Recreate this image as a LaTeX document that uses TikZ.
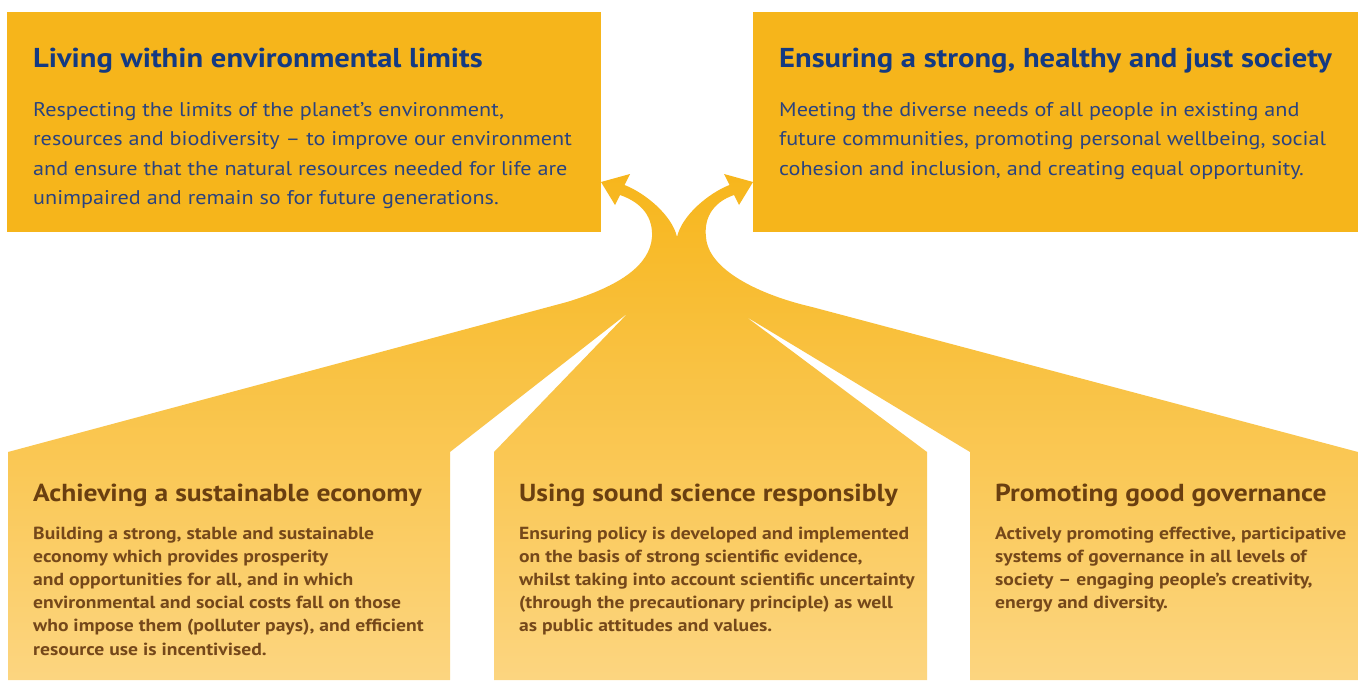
\documentclass[tikz,border=0pt]{standalone}
\usepackage{fontspec}
\newfontfamily\ptsans[FakeStretch=1.12]{PT Sans}
\definecolor{boxy}{HTML}{F6B51B}
\definecolor{shtop}{HTML}{F7B61C}
\definecolor{shmid}{HTML}{F9C244}
\definecolor{shbot}{HTML}{FCD580}
\definecolor{navy}{HTML}{143A82}
\definecolor{navyb}{HTML}{2A437F}
\definecolor{brownt}{HTML}{6A3F10}
\definecolor{brownb}{HTML}{75481A}
\tikzset{
  ttl/.style={anchor=base west,inner sep=0pt,text=navy,font=\ptsans\bfseries\fontsize{27.3}{30}\selectfont},
  bdy/.style={anchor=base west,inner sep=0pt,text=navyb,font=\ptsans\fontsize{19.8}{24}\selectfont},
  btl/.style={anchor=base west,inner sep=0pt,text=brownt,font=\ptsans\bfseries\fontsize{24.6}{28}\selectfont},
  bbd/.style={anchor=base west,inner sep=0pt,text=brownb,font=\ptsans\bfseries\fontsize{17.5}{20}\selectfont},
  topbox/.style={fill=boxy,draw=none}
}
\begin{document}
\begin{tikzpicture}[x=1pt,y=-1pt]
\useasboundingbox (0,0) rectangle (1365,680);
\fill[white] (0,0) rectangle (1365,680);
% top boxes
\fill[topbox] (7,12) rectangle (601,232);
\fill[topbox] (753,12) rectangle (1358,232);
% arrow body with slits
\path[shading=axis,top color=shtop,middle color=shmid,bottom color=shbot,shading angle=0]
  (8,680) -- (8,452) -- (567,302)
  .. controls (620,286) and (650,265) .. (652,237)
  .. controls (653,218) and (643,203) .. (620,195)
  -- (615,205) -- (601,182) -- (630,174) -- (624.5,185)
  .. controls (645,193) and (672,215) .. (677,237)
  .. controls (682,215) and (709,193) .. (729.5,185)
  -- (724,174) -- (753,182) -- (739,205) -- (734,195)
  .. controls (711,203) and (704,220) .. (706,237)
  .. controls (708,270) and (760,295) .. (812,307)
  -- (1358,452) -- (1358,680) -- (970,680) -- (970,452) -- (745,316)
  -- (927,452) -- (927,680) -- (494,680) -- (494,452) -- (628,313)
  -- (450,452) -- (450,680) -- cycle;
% top left text
\node[ttl] (t1) at (33,67) {Living within environmental limits};
\node[bdy] (t1a) at (33,116) {Respecting the limits of the planet’s environment,};
\node[bdy] (t1b) at (33,145.5) {resources and biodiversity – to improve our environment};
\node[bdy] (t1c) at (33,175) {and ensure that the natural resources needed for life are};
\node[bdy] (t1d) at (33,204) {unimpaired and remain so for future generations.};
% top right text
\node[ttl] (t2) at (779,67) {Ensuring a strong, healthy and just society};
\node[bdy] (t2a) at (779,116) {Meeting the diverse needs of all people in existing and};
\node[bdy] (t2b) at (779,145.5) {future communities, promoting personal wellbeing, social};
\node[bdy] (t2c) at (779,175) {cohesion and inclusion, and creating equal opportunity.};
% bottom left
\node[btl] (b1) at (33,501) {Achieving a sustainable economy};
\node[bbd] (b1a) at (33,539) {Building a strong, stable and sustainable};
\node[bbd] (b1b) at (33,562.2) {economy which provides prosperity};
\node[bbd] (b1c) at (33,585.4) {and opportunities for all, and in which};
\node[bbd] (b1d) at (33,608.6) {environmental and social costs fall on those};
\node[bbd] (b1e) at (33,631.8) {who impose them (polluter pays), and efficient};
\node[bbd] (b1f) at (33,655) {resource use is incentivised.};
% bottom middle
\node[btl] (b2) at (519,501) {Using sound science responsibly};
\node[bbd] (b2a) at (519,539) {Ensuring policy is developed and implemented};
\node[bbd] (b2b) at (519,562.2) {on the basis of strong scientific evidence,};
\node[bbd] (b2c) at (519,585.4) {whilst taking into account scientific uncertainty};
\node[bbd] (b2d) at (519,608.6) {(through the precautionary principle) as well};
\node[bbd] (b2e) at (519,631.8) {as public attitudes and values.};
% bottom right
\node[btl] (b3) at (995,501) {Promoting good governance};
\node[bbd] (b3a) at (995,539) {Actively promoting effective, participative};
\node[bbd] (b3b) at (995,562.2) {systems of governance in all levels of};
\node[bbd] (b3c) at (995,585.4) {society – engaging people’s creativity,};
\node[bbd] (b3d) at (995,608.6) {energy and diversity.};
\end{tikzpicture}
\end{document}
